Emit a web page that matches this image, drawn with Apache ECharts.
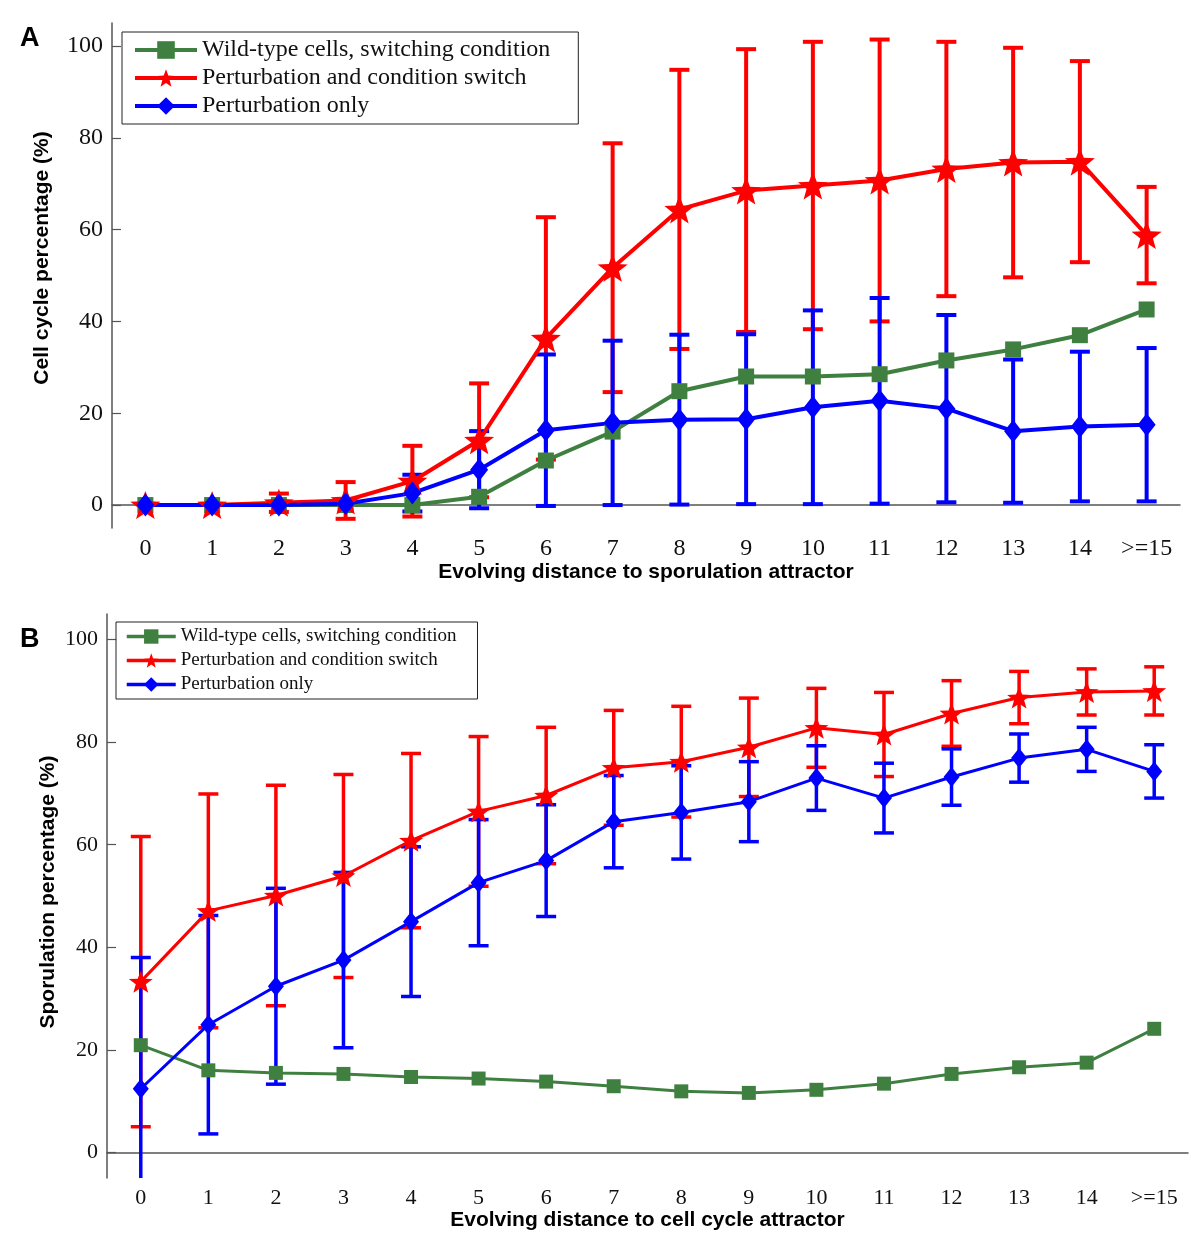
<!DOCTYPE html>
<html>
<head>
<meta charset="utf-8">
<script src="https://cdn.jsdelivr.net/npm/echarts@6/dist/echarts.min.js"></script>
<style>
  html, body { margin: 0; padding: 0; background: #fff; }
  #chart { width: 1200px; height: 1248px; }
</style>
</head>
<body>
<div id="chart"></div>
<script>
// categories (distance to attractor)
var categories = ["0", "1", "2", "3", "4", "5", "6", "7", "8", "9", "10", "11", "12", "13", "14", ">=15"];
var yTicks = [0, 20, 40, 60, 80, 100];
var seriesNames = ["Wild-type cells, switching condition", "Perturbation and condition switch", "Perturbation only"];

// panel A: cell cycle percentage
var aWild = [0, 0, 0, 0, 0, 1.8, 9.7, 16, 24.8, 28, 28, 28.5, 31.5, 33.9, 37, 42.6];
var aPertSwitch = [0, 0, 0.5, 1, 5.2, 14.1, 36.3, 51.7, 64.4, 68.5, 69.6, 70.7, 73.2, 74.6, 74.8, 58.8];
var aPertSwitchErr = [0, 0, 2, 4, 7.7, 12.4, 26.4, 27.1, 30.4, 30.8, 31.3, 30.7, 27.7, 25, 21.9, 10.5];
var aPertOnly = [0, 0, 0, 0.3, 2.6, 7.7, 16.3, 17.9, 18.6, 18.7, 21.3, 22.7, 21, 16.1, 17.1, 17.5];
var aPertOnlyErr = [0, 0, 0, 0, 4, 8.4, 16.5, 17.9, 18.5, 18.5, 21.1, 22.4, 20.4, 15.6, 16.3, 16.7];

// panel B: sporulation percentage
var bWild = [20.9, 16, 15.5, 15.3, 14.7, 14.4, 13.8, 12.9, 11.9, 11.6, 12.2, 13.4, 15.3, 16.6, 17.5, 24.1];
var bPertSwitch = [33.3, 47.1, 50.1, 53.9, 60.8, 66.5, 69.6, 75, 76.2, 79, 82.8, 81.5, 85.6, 88.7, 89.8, 90];
var bPertSwitchErr = [28.3, 22.8, 21.5, 19.8, 17, 14.6, 13.3, 11.2, 10.8, 9.6, 7.7, 8.2, 6.4, 5.1, 4.5, 4.7];
var bPertOnly = [12.4, 24.9, 32.4, 37.5, 45, 52.6, 56.9, 64.5, 66.3, 68.4, 73, 69.1, 73.2, 76.9, 78.6, 74.3];
var bPertOnlyErr = [25.6, 21.3, 19.1, 17.1, 14.6, 12.3, 10.9, 9, 9.1, 7.8, 6.3, 6.8, 5.5, 4.7, 4.3, 5.2];

var GREEN = "#3f8040";
var RED = "#ff0000";
var BLUE = "#0000ff";
var SERIF = "'Liberation Serif', 'Times New Roman', serif";
var SANS = "'Liberation Sans', Arial, sans-serif";
var STAR = "path://M50,0 L62.34,33.01 L97.55,34.55 L69.97,56.49 L79.39,90.45 L50,71 L20.61,90.45 L30.03,56.49 L2.45,34.55 L37.66,33.01 Z";

function errData(mean, err) {
  return mean.map(function (m, i) { return [i, m - err[i], m + err[i], err[i]]; });
}

function errSeries(name, mean, err, color, width, capHalf, axis) {
  return {
    name: name,
    type: "custom",
    xAxisIndex: axis,
    yAxisIndex: axis,
    clip: true,
    silent: true,
    data: errData(mean, err),
    renderItem: function (params, api) {
      if (api.value(3) <= 0) return null;
      var x = api.value(0);
      var lo = api.coord([x, api.value(1)]);
      var hi = api.coord([x, api.value(2)]);
      var st = { stroke: color, lineWidth: width };
      return {
        type: "group",
        children: [
          { type: "line", shape: { x1: lo[0], y1: lo[1], x2: hi[0], y2: hi[1] }, style: st },
          { type: "line", shape: { x1: hi[0] - capHalf, y1: hi[1], x2: hi[0] + capHalf, y2: hi[1] }, style: st },
          { type: "line", shape: { x1: lo[0] - capHalf, y1: lo[1], x2: lo[0] + capHalf, y2: lo[1] }, style: st }
        ]
      };
    }
  };
}

function lineSeries(name, data, color, width, symbol, size, axis) {
  return {
    name: name,
    type: "line",
    xAxisIndex: axis,
    yAxisIndex: axis,
    data: data,
    symbol: symbol,
    symbolSize: size,
    showAllSymbol: true,
    animation: false,
    lineStyle: { color: color, width: width },
    itemStyle: { color: color, borderWidth: 0 },
    emphasis: { disabled: true }
  };
}

function xAxis(grid, name, fontSize) {
  return {
    type: "category",
    gridIndex: grid,
    data: categories,
    name: name,
    nameLocation: "middle",
    nameGap: 31,
    nameTextStyle: { fontFamily: SANS, fontWeight: "bold", fontSize: 21, color: "#000" },
    axisLine: { lineStyle: { color: "#555", width: 1.5 } },
    axisTick: { alignWithLabel: true, inside: true, length: 10, lineStyle: { color: "#555", width: 1.2 } },
    axisLabel: { fontFamily: SERIF, fontSize: fontSize, color: "#111", margin: 9 },
    splitLine: { show: false }
  };
}

function yAxis(grid, fontSize) {
  return {
    type: "value",
    gridIndex: grid,
    min: -5,
    max: 105,
    axisLine: { show: true, lineStyle: { color: "#555", width: 1.5 } },
    axisTick: { show: true, inside: true, length: 9, customValues: yTicks, lineStyle: { color: "#555", width: 1.2 } },
    axisLabel: { customValues: yTicks, fontFamily: SERIF, fontSize: fontSize, color: "#111", margin: 9 },
    splitLine: { show: false }
  };
}

var chart = echarts.init(document.getElementById("chart"));
chart.setOption({
  backgroundColor: "#fff",
  animation: false,
  grid: [
    { left: 112, right: 20, top: 23, bottom: 720 },
    { left: 107, right: 12, top: 614, bottom: 70 }
  ],
  xAxis: [
    xAxis(0, "Evolving distance to sporulation attractor", 24),
    xAxis(1, "Evolving distance to cell cycle attractor", 22)
  ],
  yAxis: [yAxis(0, 24), yAxis(1, 22)],
  legend: [
    {
      data: seriesNames,
      orient: "vertical",
      left: 122,
      top: 32,
      padding: [6, 28, 6, 11],
      itemGap: 4,
      itemWidth: 62,
      itemHeight: 22,
      borderColor: "#222",
      borderWidth: 1,
      backgroundColor: "#fff",
      selectedMode: false,
      lineStyle: { width: 4 },
      textStyle: { fontFamily: SERIF, fontSize: 24, color: "#111", lineHeight: 24 }
    },
    {
      data: seriesNames,
      orient: "vertical",
      left: 116,
      top: 622,
      padding: [5, 21, 5, 9],
      itemGap: 5,
      itemWidth: 49,
      itemHeight: 18,
      borderColor: "#222",
      borderWidth: 1,
      backgroundColor: "#fff",
      selectedMode: false,
      lineStyle: { width: 3.5 },
      textStyle: { fontFamily: SERIF, fontSize: 19, color: "#111", lineHeight: 19 }
    }
  ],
  graphic: [
    { type: "text", left: 20, top: 25, style: { text: "A", font: "bold 27px " + SANS, fill: "#000" } },
    { type: "text", left: 20, top: 626, style: { text: "B", font: "bold 27px " + SANS, fill: "#000" } },
    { type: "text", x: 42, y: 258, rotation: Math.PI / 2,
      style: { text: "Cell cycle percentage (%)", font: "bold 21px " + SANS, fill: "#000", align: "center", verticalAlign: "middle" } },
    { type: "text", x: 48, y: 892, rotation: Math.PI / 2,
      style: { text: "Sporulation percentage (%)", font: "bold 21px " + SANS, fill: "#000", align: "center", verticalAlign: "middle" } }
  ],
  series: [
    // panel A
    lineSeries(seriesNames[0], aWild, GREEN, 4, "rect", 16, 0),
    errSeries("A switch err", aPertSwitch, aPertSwitchErr, RED, 4, 10, 0),
    lineSeries(seriesNames[1], aPertSwitch, RED, 4, STAR, [30, 28], 0),
    errSeries("A only err", aPertOnly, aPertOnlyErr, BLUE, 4, 10, 0),
    lineSeries(seriesNames[2], aPertOnly, BLUE, 4, "diamond", [18, 23], 0),
    // panel B
    lineSeries(seriesNames[0], bWild, GREEN, 3, "rect", 14, 1),
    errSeries("B switch err", bPertSwitch, bPertSwitchErr, RED, 3.5, 10, 1),
    lineSeries(seriesNames[1], bPertSwitch, RED, 3, STAR, [24, 22], 1),
    errSeries("B only err", bPertOnly, bPertOnlyErr, BLUE, 3.5, 10, 1),
    lineSeries(seriesNames[2], bPertOnly, BLUE, 3, "diamond", [16, 20], 1)
  ]
});
</script>
</body>
</html>
